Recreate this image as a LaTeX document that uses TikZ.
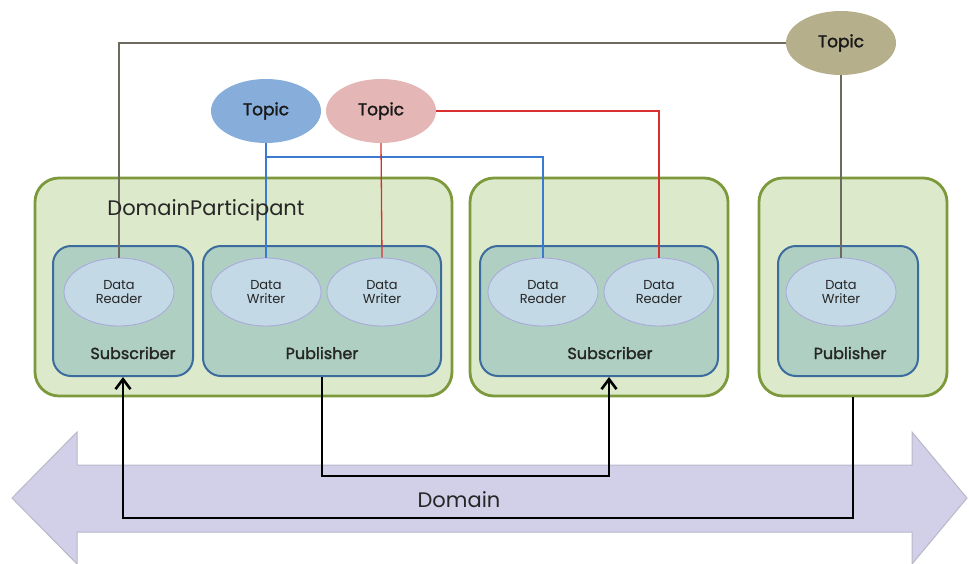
\documentclass[tikz,border=0pt]{standalone}
\usepackage{fontspec}
\setmainfont{Poppins}
\newfontfamily\semibold[FakeBold=1.6]{Poppins}
\usetikzlibrary{shapes.geometric,arrows.meta}
\definecolor{dpfill}{HTML}{DDE9CB}
\definecolor{dpdraw}{HTML}{7C9A3B}
\definecolor{psfill}{HTML}{AECFC1}
\definecolor{psdraw}{HTML}{3C6C9E}
\definecolor{elfill}{HTML}{C3D9E6}
\definecolor{eldraw}{HTML}{A9A6DD}
\definecolor{tblue}{HTML}{87AEDB}
\definecolor{tpink}{HTML}{E4B6B6}
\definecolor{tolive}{HTML}{B5AF8B}
\definecolor{arfill}{HTML}{D2CFE8}
\definecolor{ardraw}{HTML}{B8B8C8}
\definecolor{lgray}{HTML}{6E6A60}
\definecolor{lblue}{HTML}{3A7AD0}
\definecolor{lred}{HTML}{D83030}
\tikzset{
  dpbox/.style={draw=dpdraw, fill=dpfill, line width=2.8pt, rounded corners=24pt, inner sep=0pt},
  psbox/.style={draw=psdraw, fill=psfill, line width=2pt, rounded corners=18pt, inner sep=0pt},
  ent/.style={ellipse, draw=eldraw, fill=elfill, line width=0.8pt, minimum width=110pt, minimum height=68pt, inner sep=0pt, align=center, font=\fontsize{13}{14}\selectfont, text=black!85},
  topic/.style={ellipse, minimum width=110pt, minimum height=64pt, inner sep=0pt, font=\semibold\fontsize{17}{19}\selectfont, text=black!90},
  lbl/.style={font=\semibold\fontsize{16}{18}\selectfont, text=black!85},
  conn/.style={line width=2.6pt, black, -{Straight Barb[length=10pt,width=15pt,line width=2.6pt]}},
  tline/.style={line width=1.3pt}
}
\begin{document}
\begin{tikzpicture}[x=1pt,y=-1pt]
\useasboundingbox (0,0) rectangle (969,563);
% Domain double arrow
\fill[arfill, draw=ardraw, line width=1pt] (12,498) -- (77,432) -- (77,465) -- (912,465) -- (912,432) -- (967,498) -- (912,564) -- (912,532) -- (77,532) -- (77,564) -- cycle;
\node[font=\fontsize{21}{23}\selectfont, text=black!85] (dom) at (459,500) {Domain};
% participants
\node[dpbox, minimum width=417pt, minimum height=218pt] (dp1) at (243.5,287) {};
\node[dpbox, minimum width=258pt, minimum height=218pt] (dp2) at (599,287) {};
\node[dpbox, minimum width=188pt, minimum height=218pt] (dp3) at (853,287) {};
% publishers / subscribers
\node[psbox, minimum width=140pt, minimum height=130pt] (sub1) at (123,311) {};
\node[psbox, minimum width=238pt, minimum height=130pt] (pub1) at (322,311) {};
\node[psbox, minimum width=238pt, minimum height=130pt] (sub2) at (599,311) {};
\node[psbox, minimum width=140pt, minimum height=130pt] (pub3) at (848,311) {};
\node[lbl] (sub1l) at (133,353) {Subscriber};
\node[lbl] (pub1l) at (322,353) {Publisher};
\node[lbl] (sub2l) at (610,353) {Subscriber};
\node[lbl] (pub3l) at (850,353) {Publisher};
% readers / writers
\node[ent] (dr1) at (119,292) {Data\\Reader};
\node[ent] (dw1) at (266,292) {Data\\Writer};
\node[ent] (dw2) at (382,292) {Data\\Writer};
\node[ent] (dr2) at (543,292) {Data\\Reader};
\node[ent] (dr3) at (659,292) {Data\\Reader};
\node[ent] (dw3) at (841,292) {Data\\Writer};
% topics
\node[topic, fill=tolive] (to) at (841,43) {Topic};
\node[topic, fill=tblue] (tb) at (266,111) {Topic};
\node[topic, fill=tpink] (tp) at (381,111) {Topic};
% topic lines
\coordinate (bj) at (266,157);
\draw[tline, lgray] (to.west) -| (dr1.north);
\draw[tline, lgray] (to.south) -- (dw3.north);
\draw[tline, lblue] (tb.south) -- (dw1.north);
\draw[tline, lblue] (bj) -| (dr2.north);
\draw[tline, lred] (tp.south) -- (dw2.north);
\draw[tline, lred] (tp.east) -| (dr3.north);
\node[font=\fontsize{21}{23}\selectfont, text=black!85] (dpl) at (206,210) {DomainParticipant};
% black connectors
\coordinate (j1) at (322,476);
\coordinate (j2) at (853,518);
\draw[conn] (pub1.south) |- (j1) -| ([xshift=10pt]sub2.south);
\draw[conn] (dp3.south) |- (j2) -| (sub1.south);
\end{tikzpicture}
\end{document}
